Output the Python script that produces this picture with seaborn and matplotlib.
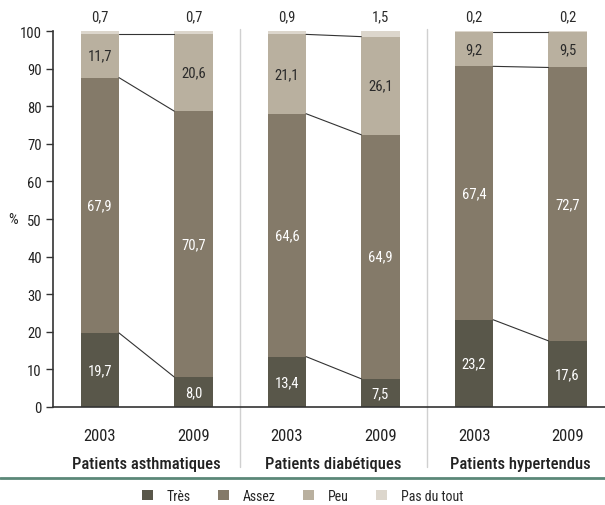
import matplotlib
matplotlib.use("Agg")
import matplotlib.pyplot as plt
from matplotlib.patches import Patch
import seaborn as sns
import pandas as pd

groups = ["Patients asthmatiques", "Patients diabétiques", "Patients hypertendus"]
years = ["2003", "2009"]
levels = ["Très", "Assez", "Peu", "Pas du tout"]
tres = [19.7, 8.0, 13.4, 7.5, 23.2, 17.6]
assez = [67.9, 70.7, 64.6, 64.9, 67.4, 72.7]
peu = [11.7, 20.6, 21.1, 26.1, 9.2, 9.5]
pas_du_tout = [0.7, 0.7, 0.9, 1.5, 0.2, 0.2]

colors = ["#59574a", "#847a69", "#b9b09f", "#dcd6cc"]
label_colors = ["white", "white", "#2a2a2a", "#2a2a2a"]

sns.set_style("white")
plt.rcParams["font.family"] = ["Roboto Condensed", "DejaVu Sans"]

bars = [f"{g}-{y}" for g in range(3) for y in years]
df = pd.DataFrame({"bar": bars, "Très": tres, "Assez": assez,
                   "Peu": peu, "Pas du tout": pas_du_tout})

fig = plt.figure(figsize=(6.05, 5.06), dpi=100)
ax = fig.add_axes([53 / 605, 98 / 506, 552 / 605, 376 / 506])

w = 0.41
bottom = [0.0] * 6
tops = []
for lev, col, lc in zip(levels, colors, label_colors):
    sns.barplot(data=df, x="bar", y=lev, bottom=bottom, color=col,
                width=w, ax=ax, saturation=1, linewidth=0)
    for i, v in enumerate(df[lev]):
        txt = f"{v:.1f}".replace(".", ",")
        if lev == "Pas du tout":
            ax.text(i, 104, txt, ha="center", va="center", fontsize=10.5,
                    color=lc, clip_on=False)
        else:
            ax.text(i, bottom[i] + v / 2, txt, ha="center", va="center",
                    fontsize=10.5, color=lc)
    bottom = [b + v for b, v in zip(bottom, df[lev])]
    tops.append(list(bottom))

# lines linking the two years of each group
for k in range(3):
    i = 2 * k
    for t in tops[:3]:
        ax.plot([i + w / 2, i + 1 - w / 2], [t[i], t[i + 1]],
                color="#333333", lw=0.8)

ax.set_xlim(-0.5, 5.4)
ax.set_ylim(0, 100)
ax.set_yticks(range(0, 101, 10))
ax.tick_params(axis="y", length=5, width=1, color="#333333", labelsize=10.5,
               left=True, pad=3, labelcolor="#222222")
ax.set_xticks(range(6))
ax.set_xticklabels(years * 3, fontsize=12, color="#222222")
ax.tick_params(axis="x", length=0, pad=15)
ax.set_xlabel("")
ax.set_ylabel("%", rotation=0, fontsize=11, va="center", ha="center",
              color="#222222")
ax.yaxis.set_label_coords(-0.072, 0.5)
for s in ["top", "right"]:
    ax.spines[s].set_visible(False)
for s in ["left", "bottom"]:
    ax.spines[s].set_color("#333333")
    ax.spines[s].set_linewidth(1.2)

for xs in [1.5, 3.5]:
    ax.plot([xs, xs], [100.5, -16], color="#d0d0d0", lw=1, clip_on=False)

for k, g in enumerate(groups):
    ax.text(2 * k + 0.5, -14.9, g, ha="center", va="center", fontsize=12,
            fontweight="medium", color="#222222")

fig.add_artist(plt.Line2D([0, 1], [1 - 479 / 506] * 2, color="#5b8878",
                          lw=2, transform=fig.transFigure))

handles = [Patch(facecolor=c, edgecolor="none") for c in colors]
fig.legend(handles, levels, loc="center", bbox_to_anchor=(0.5, 1 - 497 / 506),
           ncol=4, frameon=False, fontsize=10, handlelength=0.75,
           handleheight=0.75, columnspacing=2.0, handletextpad=1.0)

fig.savefig("out.png", dpi=100)
